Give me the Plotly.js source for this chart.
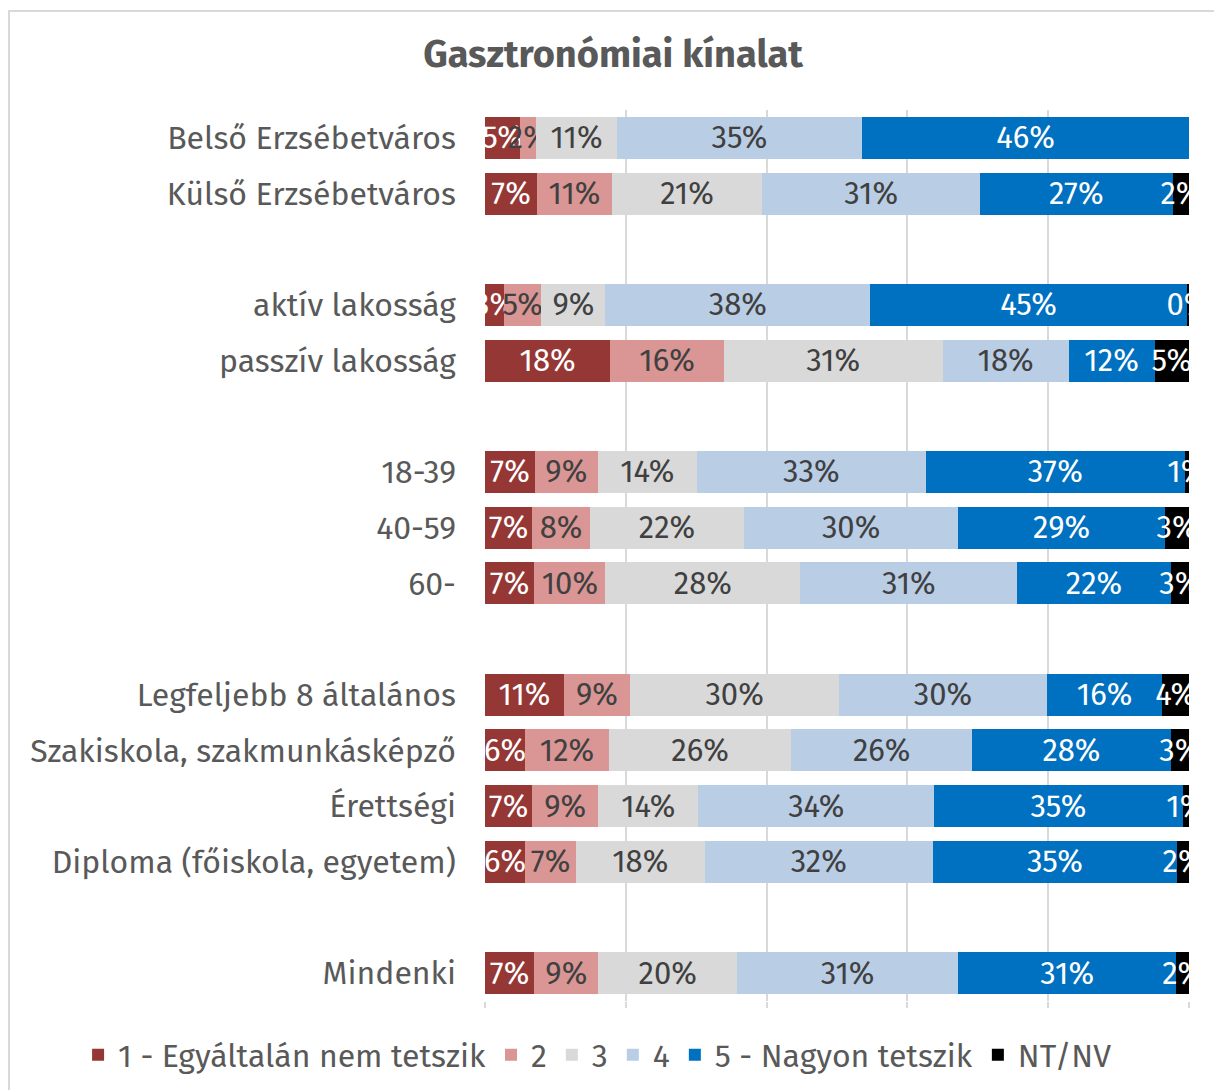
<!DOCTYPE html>
<html>
<head>
<meta charset="utf-8">
<script src="https://cdn.plot.ly/plotly-3.0.1.min.js"></script>
<style>
  html, body { margin: 0; padding: 0; background: #ffffff; }
  #frame { position: absolute; left: 8px; top: 10px; width: 1206px; height: 1080px;
           border-left: 2px solid #d9d9d9; border-top: 2px solid #d9d9d9; }
  #chart { position: absolute; left: 0; top: 0; width: 1214px; height: 1090px; }
</style>
</head>
<body>
<div id="frame"></div>
<div id="chart"></div>
<script>
// Categories, top to bottom (blank entries are the empty gap rows)
const categories = [
  'Belső Erzsébetváros', 'Külső Erzsébetváros', ' ',
  'aktív lakosság', 'passzív lakosság', '  ',
  '18-39', '40-59', '60-', '   ',
  'Legfeljebb 8 általános', 'Szakiskola, szakmunkásképző', 'Érettségi', 'Diploma (főiskola, egyetem)', '    ',
  'Mindenki'
];

const seriesNames = ['1 - Egyáltalán nem tetszik', '2', '3', '4', '5 - Nagyon tetszik', 'NT/NV'];

// Percent values per series, in the category order above
const s1 = [5.0, 7.4, null, 2.7, 17.8, null, 7.1, 6.7, 7.0, null, 11.2, 5.7, 6.7, 5.7, null, 7.0];
const s2 = [2.3, 10.6, null, 5.3, 16.1, null, 8.9, 8.2, 10.1, null, 9.4, 11.9, 9.4, 7.2, null, 9.1];
const s3 = [11.4, 21.4, null, 9.1, 31.1, null, 14.1, 21.9, 27.7, null, 29.7, 25.9, 14.2, 18.3, null, 19.7];
const s4 = [34.9, 30.9, null, 37.6, 17.9, null, 32.5, 30.4, 30.8, null, 29.5, 25.7, 33.5, 32.4, null, 31.4];
const s5 = [46.4, 27.4, null, 45.0, 12.2, null, 36.8, 29.4, 21.8, null, 16.4, 28.2, 35.3, 34.7, null, 31.0];
const s6 = [null, 2.3, null, 0.3, 4.9, null, 0.6, 3.4, 2.6, null, 3.8, 2.6, 0.9, 1.7, null, 1.8];

const seriesValues = [s1, s2, s3, s4, s5, s6];
const colors = ['#953735', '#d99694', '#d9d9d9', '#b9cde5', '#0070c0', '#000000'];
const textColors = ['#ffffff', '#404040', '#404040', '#404040', '#ffffff', '#ffffff'];

const FONT = '"Fira Sans", "Noto Sans", "Open Sans", sans-serif';

const traces = seriesValues.map((vals, i) => ({
  type: 'bar',
  orientation: 'h',
  name: seriesNames[i],
  y: categories,
  x: vals,
  marker: { color: colors[i], line: { width: 0 } },
  texttemplate: '%{x:.0f}%',
  textposition: 'inside',
  insidetextanchor: 'middle',
  textangle: 0,
  constraintext: 'none',
  cliponaxis: true,
  textfont: { family: FONT, size: 31, color: textColors[i] },
  hoverinfo: 'skip'
}));

const layout = {
  width: 1214,
  height: 1090,
  paper_bgcolor: 'rgba(0,0,0,0)',
  plot_bgcolor: 'rgba(0,0,0,0)',
  margin: { l: 485, r: 25, t: 110, b: 89, pad: 0, autoexpand: false },
  barmode: 'stack',
  bargap: 0.245,
  font: { family: FONT, color: '#595959' },
  title: {
    text: '<b>Gasztronómiai kínalat</b>',
    font: { family: FONT, size: 38, color: '#595959' },
    x: 0.505, xref: 'container', xanchor: 'center',
    y: 0.951, yref: 'container', yanchor: 'middle'
  },
  xaxis: {
    range: [0, 100],
    tickvals: [0, 20, 40, 60, 80, 100],
    showticklabels: false,
    showgrid: true,
    gridcolor: '#d9d9d9',
    gridwidth: 2,
    zeroline: false,
    showline: false,
    ticks: 'outside',
    ticklen: 6,
    tickwidth: 2,
    tickcolor: '#d9d9d9',
    fixedrange: true
  },
  yaxis: {
    type: 'category',
    categoryorder: 'array',
    categoryarray: categories,
    autorange: 'reversed',
    showgrid: false,
    zeroline: false,
    showline: false,
    ticks: '',
    ticklabelstandoff: 28,
    tickfont: { family: FONT, size: 32, color: '#595959' },
    fixedrange: true
  },
  showlegend: true,
  legend: {
    orientation: 'h',
    x: -0.578, xref: 'paper', xanchor: 'left',
    y: -0.0606, yref: 'paper', yanchor: 'middle',
    font: { family: FONT, size: 32, color: '#595959' },
    traceorder: 'normal',
    itemclick: false,
    itemdoubleclick: false
  }
};

Plotly.newPlot('chart', traces, layout, { displayModeBar: false, staticPlot: true });
</script>
</body>
</html>
